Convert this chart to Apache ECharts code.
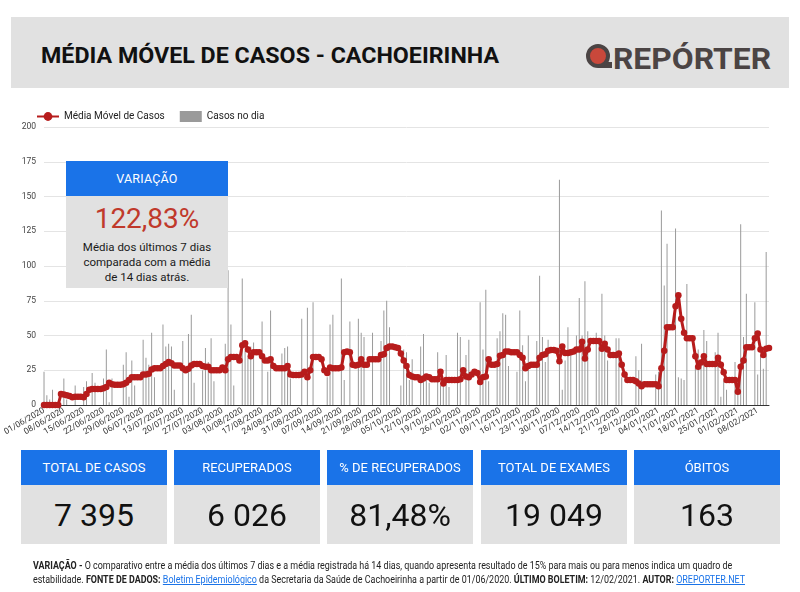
<!DOCTYPE html>
<html lang="pt-BR">
<head>
<meta charset="utf-8">
<title>Média Móvel de Casos - Cachoeirinha</title>
<script src="https://cdn.jsdelivr.net/npm/echarts@6/dist/echarts.min.js"></script>
<style>
html,body{margin:0;padding:0;background:#fff}
body{width:800px;height:592px;overflow:hidden;position:relative;font-family:Roboto,"Noto Sans",Arial,sans-serif;color:#111}
#chart{position:absolute;left:0;top:0;width:800px;height:592px}
.abs{position:absolute}
#header{left:11px;top:17px;width:778px;height:71px;background:#e1e1e1}
#title{left:41px;top:42px;font-size:22.5px;line-height:26px;font-weight:700;white-space:nowrap;transform-origin:left top;color:#111}
#logoTail{left:598px;top:62px;width:14px;height:6px;background:#4b4444}
#logoRing{left:586px;top:44px;width:16px;height:16px;border-radius:50%;background:#c9483b;border:4.5px solid #4b4444}
#logoText{left:613px;top:40.5px;font-size:30px;line-height:35px;font-weight:700;color:#4b4444;white-space:nowrap;transform-origin:left top}
#varBox{left:66px;top:161px;width:162px;z-index:5}
#varHead{height:35px;background:#1a73e8;color:#fff;font-size:12.5px;display:flex;align-items:center;justify-content:center;letter-spacing:0.2px}
#varBody{height:92px;background:#e1e1e1;text-align:center}
#varPct{padding-top:8px;font-size:28px;line-height:30px;color:#c0392b}
#varTxt{margin-top:6px;font-size:11.5px;line-height:15px;color:#1a1a1a}
.stat{top:450px;width:146px}
.statHead{height:35px;background:#1a73e8;color:#fff;font-size:13px;display:flex;align-items:center;justify-content:center}
.statVal{height:59px;background:#e1e1e1;color:#111;font-size:32px;display:flex;align-items:center;justify-content:center}
#footer{left:33px;top:559px;font-size:10px;line-height:13.5px;color:#222;white-space:nowrap;transform-origin:left top}
#footer b{font-weight:700}
#footer a{color:#1a73e8;text-decoration:underline}
</style>
</head>
<body>
<div id="chart"></div>
<div id="header" class="abs"></div>
<div id="title" class="abs">MÉDIA MÓVEL DE CASOS - CACHOEIRINHA</div>
<div id="logoTail" class="abs"></div>
<div id="logoRing" class="abs"></div>
<div id="logoText" class="abs">REPÓRTER</div>
<div id="varBox" class="abs">
  <div id="varHead">VARIAÇÃO</div>
  <div id="varBody">
    <div id="varPct">122,83%</div>
    <div id="varTxt">Média dos últimos 7 dias<br>comparada com a média<br>de 14 dias atrás.</div>
  </div>
</div>
<div id="stats"></div>
<div id="footer" class="abs"><span class="fl"><b>VARIAÇÃO -</b> O comparativo entre a média dos últimos 7 dias e a média registrada há 14 dias, quando apresenta resultado de 15% para mais ou para menos indica um quadro de</span><br><span class="fl">estabilidade. <b>FONTE DE DADOS:</b> <a>Boletim Epidemiológico</a> da Secretaria da Saúde de Cachoeirinha a partir de 01/06/2020. <b>ÚLTIMO BOLETIM:</b> 12/02/2021. <b>AUTOR:</b> <a>OREPORTER.NET</a></span></div>
<script>
// ---------------- DATA ----------------
const seriesNames = ['Média Móvel de Casos', 'Casos no dia'];
const startDay = [2020, 6, 1]; // 01/06/2020

// 7-day moving average (one value per day)
const movingAverage = [
  0,0,0,0,0,0,8,7.5,7,6.5,
  5.5,6,6,6,5.5,8,11,11.5,11.5,11.5,
  11.5,12,13,16,15,14.5,14.5,14.5,15,16,
  18,20,20,20,20,22,22,22.5,25.5,26.5,
  26.5,26.5,28,29.5,31,30,28.5,28.5,28.5,26.5,
  25,26,28.5,29.5,29.5,29.5,28,27.5,27.5,25,
  25,25,25,27,25,33,34.5,34.5,34.5,32,
  43,44.5,40,35,38,38,38,35,32,32,
  33,28,26.5,26.5,26.5,26.5,28,22,21.5,21.5,
  21.5,22,24,20,25,34.5,34.5,34.5,33,25,
  23,27,26.5,26.5,26.5,27,38,38.5,38,29,
  28.5,29,33,29,29,33,33,33,33,36,
  36.5,41,42,42,41.5,41,37,32,28,21.5,
  20.5,20,20,18,19,20.5,20,18.5,18.5,18.5,
  24,15.5,18,18,18,18,18,18.5,25,20.5,
  20,22,24,23,16.5,20,20.5,33,29,29,
  29.5,35.5,36,38.5,38.5,38,38,38,36,34,
  26.5,28,29,29,29,34,36,36.5,39,39.5,
  39.5,39,31.5,42,37.5,37.5,38,38.5,40,40,
  45.5,33.5,40,46,46,46,46,40.5,44,40,
  36,36,36,37,29,22,18,18,18,17,
  15.5,13.5,15,15,15,15,15,13.5,26.5,39,
  56,56,56,71,79,62,52,48,48,48,
  35,27.5,30.5,35,29.5,29.5,29.5,29.5,34,29,
  23.5,18,18,18,18,9.5,27.5,32,41.5,41.5,
  41.5,48,51.5,40,36,40.5,41
];

// daily cases (one value per day)
const dailyCases = [
  24,7,4,11,0,0,0,19,4,0,
  0,14,0,0,13,17,0,23,16,0,
  0,19,40,2,19,0,0,0,29,38,
  6,32,14,0,0,47,34,29,52,20,
  0,0,58,42,44,42,11,0,0,46,
  0,51,65,16,0,0,25,41,31,48,
  17,0,0,0,44,97,58,14,0,0,
  91,39,34,42,45,0,0,60,0,24,
  68,0,0,0,37,41,42,19,0,0,
  0,62,0,70,0,74,0,0,0,0,
  20,58,65,0,0,91,18,0,60,0,
  0,62,52,49,0,0,52,0,0,46,
  68,75,56,0,0,0,14,40,38,18,
  33,0,0,42,51,18,16,0,0,38,
  14,18,36,13,0,0,52,49,0,36,
  47,0,0,0,74,40,83,17,0,0,
  48,53,66,65,28,0,0,24,68,43,
  17,50,0,0,46,93,49,31,47,0,
  0,0,162,11,32,56,37,0,50,77,
  50,89,53,0,0,52,44,80,50,32,
  0,0,48,48,20,0,0,0,0,35,
  25,44,0,0,0,0,22,24,140,86,
  116,0,0,127,20,19,18,87,0,0,
  28,40,32,54,46,0,0,38,52,6,
  17,11,0,0,31,17,130,49,80,0,
  0,74,22,36,26,110,0
];

const yTicks = { min: 0, max: 200, interval: 25 };

const statLabels = ['TOTAL DE CASOS', 'RECUPERADOS', '% DE RECUPERADOS', 'TOTAL DE EXAMES', 'ÓBITOS'];
const statValues = ['7 395', '6 026', '81,48%', '19 049', '163'];

// day labels (dd/mm/yyyy) for every day of the series
const categories = movingAverage.map(function (_, i) {
  const d = new Date(startDay[0], startDay[1] - 1, startDay[2] + i);
  const p = function (n) { return (n < 10 ? '0' : '') + n; };
  return p(d.getDate()) + '/' + p(d.getMonth() + 1) + '/' + d.getFullYear();
});

// ---------------- STAT BOXES ----------------
const statLefts = [21, 174, 327, 481, 634];
const statsEl = document.getElementById('stats');
statLabels.forEach(function (lab, i) {
  const box = document.createElement('div');
  box.className = 'abs stat';
  box.style.left = statLefts[i] + 'px';
  box.innerHTML = '<div class="statHead">' + lab + '</div><div class="statVal">' + statValues[i] + '</div>';
  statsEl.appendChild(box);
});

// fit text widths to the reference layout
function fitWidth(el, target) {
  const w = el.getBoundingClientRect().width;
  if (w > 0) el.style.transform = 'scaleX(' + (target / w) + ')';
}
fitWidth(document.getElementById('title'), 458);
fitWidth(document.getElementById('logoText'), 158);
fitWidth(document.getElementById('footer'), 712);

// ---------------- CHART ----------------
const chart = echarts.init(document.getElementById('chart'), null, { renderer: 'canvas' });
chart.setOption({
  animation: false,
  backgroundColor: 'transparent',
  textStyle: { fontFamily: 'Roboto, "Noto Sans", sans-serif' },
  legend: {
    data: [
      { name: seriesNames[0] },
      { name: seriesNames[1], icon: 'rect', itemStyle: { color: '#9a9a9a' } }
    ],
    left: 31,
    top: 106,
    itemWidth: 22,
    itemHeight: 11,
    itemGap: 15,
    textStyle: { fontSize: 10, color: '#222' }
  },
  grid: { left: 44, right: 31, top: 127, bottom: 187, containLabel: false },
  xAxis: {
    type: 'category',
    data: categories,
    boundaryGap: false,
    axisLine: { lineStyle: { color: '#333', width: 1 } },
    axisTick: { show: false },
    axisLabel: { interval: 6, rotate: 30, fontSize: 8.5, color: '#333', margin: 5 },
    splitLine: { show: false }
  },
  yAxis: {
    type: 'value',
    min: yTicks.min,
    max: yTicks.max,
    interval: yTicks.interval,
    axisLine: { show: false },
    axisTick: { show: false },
    axisLabel: { fontSize: 8.5, color: '#444', margin: 8 },
    splitLine: { lineStyle: { color: '#e4e4e4', width: 1 } }
  },
  series: [
    {
      name: seriesNames[1],
      type: 'bar',
      data: dailyCases,
      barWidth: 1,
      itemStyle: { color: '#9a9a9a' },
      z: 1
    },
    {
      name: seriesNames[0],
      type: 'line',
      data: movingAverage,
      symbol: 'circle',
      symbolSize: 6.5,
      showAllSymbol: true,
      lineStyle: { color: '#b71c1c', width: 3 },
      itemStyle: { color: '#b71c1c' },
      z: 3
    }
  ]
});
</script>
</body>
</html>
